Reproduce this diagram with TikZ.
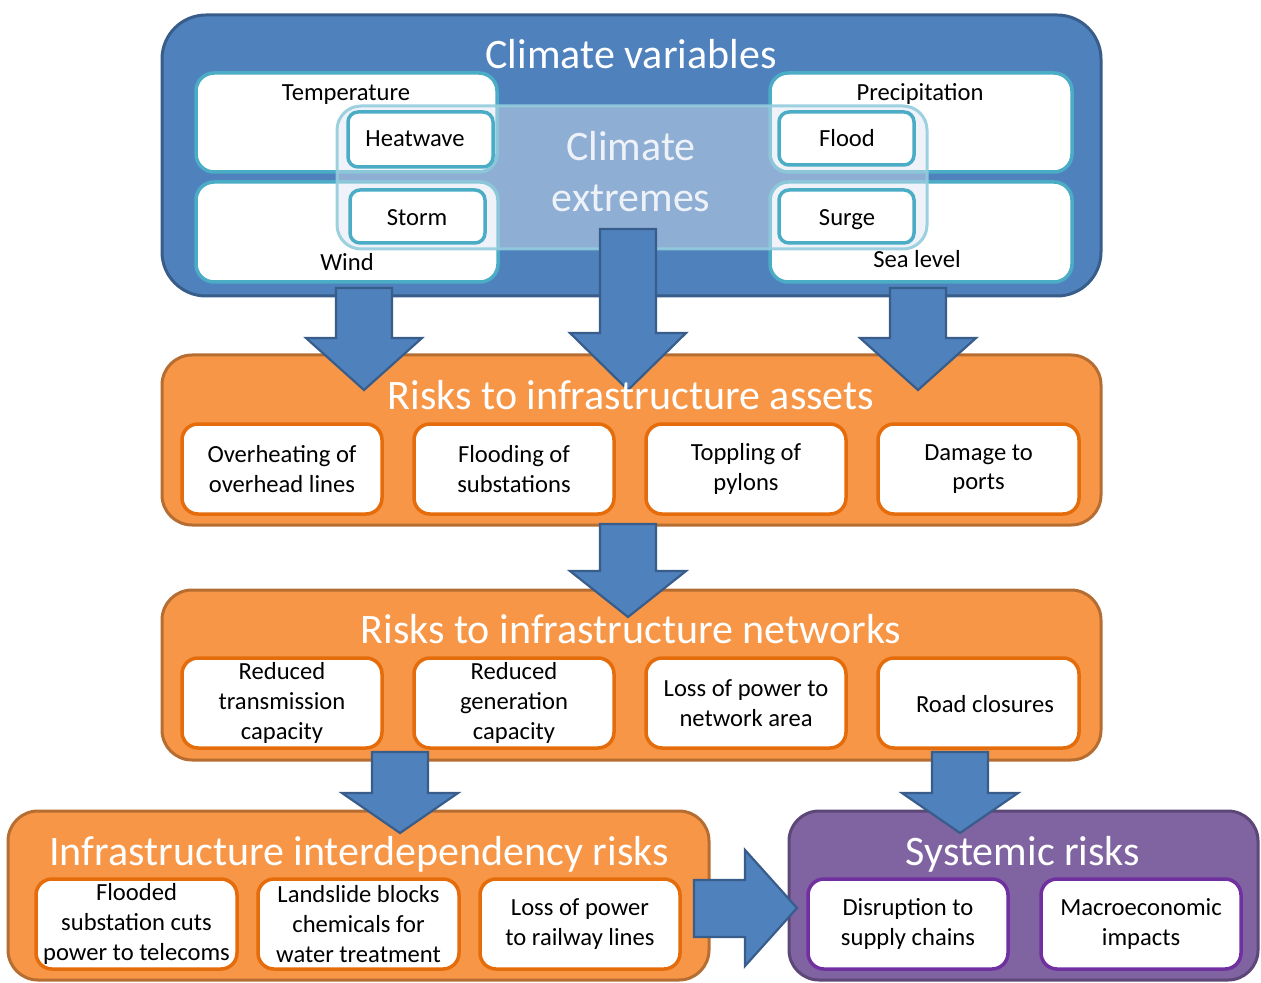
\documentclass[tikz,border=0pt]{standalone}
\usepackage{fontspec}
\setmainfont{Carlito}
\usetikzlibrary{fit}
\definecolor{cblue}{HTML}{4F81BD}
\definecolor{cblueD}{HTML}{385D8A}
\definecolor{cteal}{HTML}{4BACC6}
\definecolor{lteal}{HTML}{93CDDD}
\definecolor{ovfill}{HTML}{DCE6F2}
\definecolor{corange}{HTML}{F79646}
\definecolor{corangeD}{HTML}{B66D31}
\definecolor{corangeB}{HTML}{E46C0A}
\definecolor{cpurple}{HTML}{8064A2}
\definecolor{cpurpleD}{HTML}{5C4776}
\definecolor{cpurpleB}{HTML}{7030A0}
\tikzset{
  cont/.style={draw, line width=1.5pt, inner sep=0pt, rounded corners=15pt},
  bluecont/.style={cont, fill=cblue, draw=cblueD, rounded corners=22pt},
  orcont/.style={cont, fill=corange, draw=corangeD},
  pucont/.style={cont, fill=cpurple, draw=cpurpleD},
  varbox/.style={draw=cteal, fill=white, line width=1.75pt, inner sep=0pt, rounded corners=9pt},
  extbox/.style={draw=cteal, fill=white, line width=1.75pt, inner sep=0pt, rounded corners=5pt},
  overlay box/.style={draw=lteal, fill=ovfill, fill opacity=0.45, draw opacity=0.9, line width=1.5pt, inner sep=0pt, rounded corners=12pt},
  orbox/.style={draw=corangeB, fill=white, line width=1.75pt, inner sep=0pt, rounded corners=8pt},
  pubox/.style={draw=cpurpleB, fill=white, line width=1.75pt, inner sep=0pt, rounded corners=8pt},
  txt/.style={font=\fontsize{12.3}{14.8}\selectfont, align=center, inner sep=0pt, text=black},
  btxt/.style={txt, anchor=base},
  ttl/.style={font=\fontsize{21}{25}\selectfont, text=white, inner sep=0pt, anchor=base},
  barrow/.style={fill=cblue, draw=cblueD, line width=1.1pt, line join=miter}
}
\newcommand\dnarrow[4]{% cx, top, headstart, tip
  \draw[barrow] ({#1-28},#2) -- ({#1+28},#2) -- ({#1+28},#3) -- ({#1+58},#3) -- (#1,#4) -- ({#1-58},#3) -- ({#1-28},#3) -- cycle;}
\begin{document}
\begin{tikzpicture}[x=0.5pt,y=-0.5pt]
\useasboundingbox (0,0) rectangle (1261,983);

% ---- Climate variables
\node[bluecont, fit={(162,15) (1101,296)}] (clim) {};
\node[varbox, fit={(196,73) (497,172)}] (temp) {};
\node[varbox, fit={(196,182) (498,282)}] (wind) {};
\node[varbox, fit={(770,73) (1072,172)}] (prec) {};
\node[varbox, fit={(770,182) (1072,282)}] (sea) {};
\node[btxt] at (346,101) {Temperature};
\node[btxt] at (347,271) {Wind};
\node[btxt] at (920,101) {Precipitation};
\node[btxt] at (917,268) {Sea level};
\node[overlay box, fit={(337,106) (927,249)}] (ext) {};
\node[extbox, fit={(348,112) (493,167)}] (heat) {};
\node[extbox, fit={(350,190) (485,243)}] (storm) {};
\node[extbox, fit={(779,112) (914,165)}] (flood) {};
\node[extbox, fit={(779,190) (914,243)}] (surge) {};
\node[btxt] at (415,147) {Heatwave};
\node[btxt] at (417,226) {Storm};
\node[btxt] at (847,147) {Flood};
\node[btxt] at (847,226) {Surge};
\node[ttl] (climt) at (631,69) {Climate variables};
\node[ttl, text opacity=0.85] (ext1) at (631,161) {Climate};
\node[ttl, text opacity=0.85] (ext2) at (631,212) {extremes};

% ---- Risks to infrastructure assets
\node[orcont, fit={(162,355) (1101,525)}] (assets) {};
\node[orbox, fit={(182,424) (382,514)}] (a1) {};
\node[orbox, fit={(414,424) (614,514)}] (a2) {};
\node[orbox, fit={(646,424) (846,514)}] (a3) {};
\node[orbox, fit={(878,424) (1079,514)}] (a4) {};
\node[txt] at (a1.center) {Overheating of\\overhead lines};
\node[txt] at (a2.center) {Flooding of\\substations};
\node[txt] at (a3.center) {Toppling of\\pylons};
\node[txt] at (a4.center) {Damage to\\ports};

% ---- Risks to infrastructure networks
\node[orcont, fit={(162,590) (1101,760)}] (nets) {};
\node[orbox, fit={(182,658) (382,748)}] (n1) {};
\node[orbox, fit={(414,658) (614,748)}] (n2) {};
\node[orbox, fit={(646,658) (846,748)}] (n3) {};
\node[orbox, fit={(878,658) (1079,748)}] (n4) {};
\node[txt] at (n1.center) {Reduced\\transmission\\capacity};
\node[txt] at (n2.center) {Reduced\\generation\\capacity};
\node[txt] at (n3.center) {Loss of power to\\network area};
\node[txt] at (985,704) {Road closures};

% ---- Infrastructure interdependency risks
\node[orcont, fit={(8,811) (709,980)}] (inter) {};
\node[orbox, fit={(36,879) (237,969)}] (i1) {};
\node[orbox, fit={(258,879) (459,969)}] (i2) {};
\node[orbox, fit={(480,879) (680,969)}] (i3) {};
\node[txt] at (i1.center) {Flooded\\substation cuts\\power to telecoms};
\node[txt] at (i2.center) {Landslide blocks\\chemicals for\\water treatment};
\node[txt] at (i3.center) {Loss of power\\to railway lines};

% ---- Systemic risks
\node[pucont, fit={(789,811) (1258,980)}] (sys) {};
\node[pubox, fit={(808,879) (1008,969)}] (s1) {};
\node[pubox, fit={(1041,879) (1241,969)}] (s2) {};
\node[txt] at (s1.center) {Disruption to\\supply chains};
\node[txt] at (s2.center) {Macroeconomic\\impacts};

% ---- Block arrows
\dnarrow{364}{288}{338}{390}
\dnarrow{628}{229}{333}{390}
\dnarrow{918}{288}{338}{390}
\dnarrow{628}{524}{571}{617}
\dnarrow{400}{752}{793}{833}
\dnarrow{960}{752}{793}{833}
\draw[barrow] (694,880) -- (745,880) -- (745,850) -- (797,908) -- (745,966) -- (745,937) -- (694,937) -- cycle;

% ---- titles on top
\node[ttl] at (631,409) {Risks to infrastructure assets};
\node[ttl] at (631,643) {Risks to infrastructure networks};
\node[ttl] at (359,865) {Infrastructure interdependency risks};
\node[ttl] at (1023,865) {Systemic risks};
\end{tikzpicture}
\end{document}
